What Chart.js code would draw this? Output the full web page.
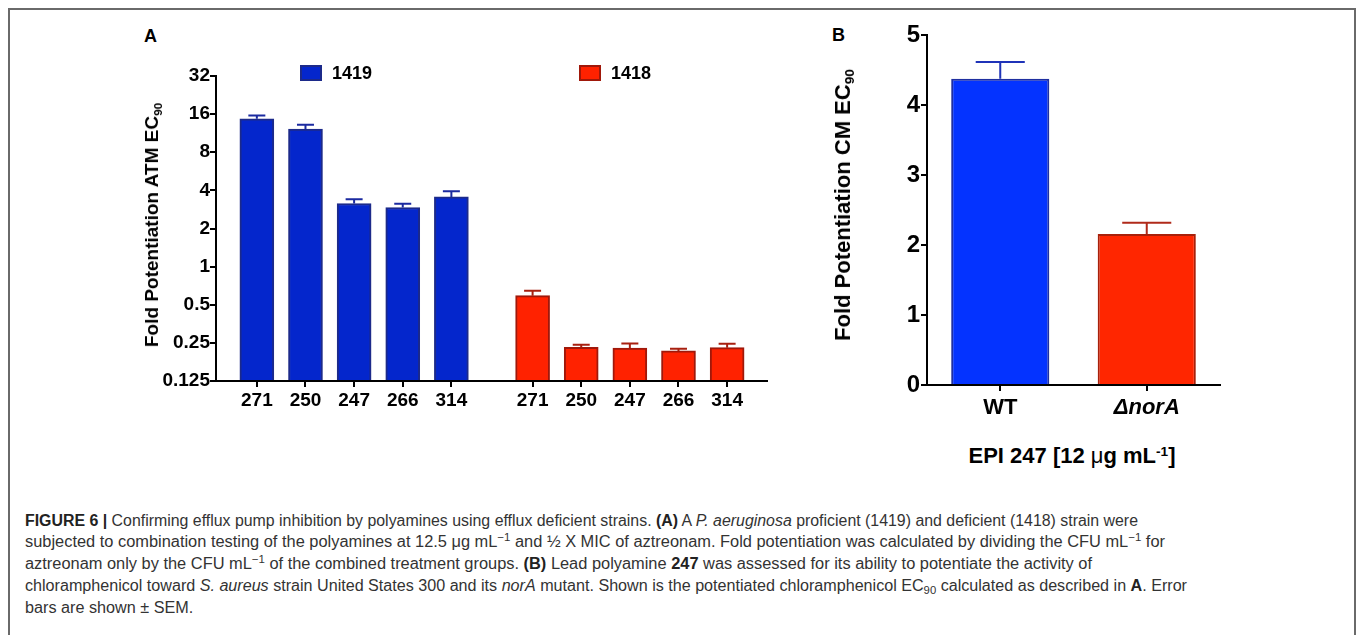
<!DOCTYPE html>
<html><head><meta charset="utf-8">
<script src="https://cdn.jsdelivr.net/npm/chart.js@4.4.0/dist/chart.umd.min.js"></script>
<style>
html,body{margin:0;padding:0;background:#fff;width:1357px;height:635px;overflow:hidden;font-family:"Liberation Sans",Arial,sans-serif;}
#frame{position:absolute;left:8px;top:8px;width:1348px;height:700px;border:2px solid #6a6a6a;border-bottom:none;box-sizing:border-box;}
.abs{position:absolute;}
.panel{position:absolute;font-weight:bold;font-size:18px;color:#000;}
.rot{position:absolute;transform:translate(-50%,-50%) rotate(-90deg);white-space:nowrap;font-weight:bold;color:#000;}
.ctr{position:absolute;transform:translate(-50%,-50%);white-space:nowrap;font-weight:bold;color:#000;}
sub.s{font-size:0.62em;vertical-align:-0.3em;line-height:0;}
sup.s{font-size:0.62em;vertical-align:0.55em;line-height:0;}
.leg{position:absolute;box-sizing:border-box;border:2px solid;}
.legt{position:absolute;font-weight:bold;font-size:18px;line-height:18px;color:#000;}
#caption{position:absolute;left:25px;top:509.6px;font-size:16px;line-height:21.8px;color:#333;}
#caption .ln{white-space:nowrap;display:block;height:21.8px;}
#caption .ln span.in{display:inline-block;transform-origin:0 50%;}
#caption b{color:#222;}
#caption sup{font-size:0.7em;vertical-align:0.5em;line-height:0;}
#caption sub{font-size:0.7em;vertical-align:-0.25em;line-height:0;}
</style>
</head>
<body>
<div id="frame"></div>

<div class="panel" style="left:144px;top:26px;">A</div>
<div class="panel" style="left:832px;top:25px;">B</div>

<div id="wrapA" class="abs" style="left:100px;top:60px;width:700px;height:360px;"><canvas id="chartA" width="700" height="360"></canvas></div>
<div id="wrapB" class="abs" style="left:850px;top:20px;width:400px;height:420px;"><canvas id="chartB" width="400" height="420"></canvas></div>

<div class="rot" style="left:152px;top:225px;font-size:19px;">Fold Potentiation ATM EC<sub class="s">90</sub></div>
<div class="rot" style="left:843px;top:205px;font-size:22px;">Fold Potentiation CM EC<sub class="s">90</sub></div>
<div class="ctr" style="left:1072px;top:456px;font-size:22px;">EPI 247 [12 <span style="font-weight:normal">μ</span>g mL<sup class="s">-1</sup>]</div>

<div id="legendA"></div>

<div id="caption">
<div class="ln"><span class="in" data-w="1113"><b>FIGURE 6 |</b> Confirming efflux pump inhibition by polyamines using efflux deficient strains. <b>(A)</b> A <i>P. aeruginosa</i> proficient (1419) and deficient (1418) strain were</span></div>
<div class="ln"><span class="in" data-w="1140">subjected to combination testing of the polyamines at 12.5 μg mL<sup>−1</sup> and ½ X MIC of aztreonam. Fold potentiation was calculated by dividing the CFU mL<sup>−1</sup> for</span></div>
<div class="ln"><span class="in" data-w="1067">aztreonam only by the CFU mL<sup>−1</sup> of the combined treatment groups. <b>(B)</b> Lead polyamine <b>247</b> was assessed for its ability to potentiate the activity of</span></div>
<div class="ln"><span class="in" data-w="1162">chloramphenicol toward <i>S. aureus</i> strain United States 300 and its <i>norA</i> mutant. Shown is the potentiated chloramphenicol EC<sub>90</sub> calculated as described in <b>A</b>. Error</span></div>
<div class="ln"><span class="in">bars are shown ± SEM.</span></div>
</div>

<script>
// ---------- DATA ----------
const categories = ['271', '250', '247', '266', '314'];
const strains = ['1419', '1418'];
const fold1419 = [14.7, 12.2, 3.15, 2.93, 3.55];
const sem1419 = [0.9, 1.0, 0.26, 0.2, 0.39];
const fold1418 = [0.59, 0.231, 0.227, 0.216, 0.229];
const sem1418 = [0.056, 0.011, 0.02, 0.009, 0.017];
const yTicksA = [0.125, 0.25, 0.5, 1, 2, 4, 8, 16, 32];
const yTickLabelsA = ['0.125', '0.25', '0.5', '1', '2', '4', '8', '16', '32'];

const groupsB = ['WT', 'ΔnorA'];
const foldB = [4.38, 2.16];
const semB = [0.24, 0.16];
const yTicksB = [0, 1, 2, 3, 4, 5];

// ---------- STYLE ----------
const FONT = '"Liberation Sans", Arial, sans-serif';
const fillA = ['#0426cc', '#ff2200'];
const edgeA = ['#1c2a8a', '#a0180a'];
const errA = ['#1b2aa0', '#a82010'];
const fillB = ['#0433ff', '#ff2600'];
const edgeB = ['#1f2fa0', '#a8200a'];
const errB = ['#1f33b8', '#b02a1a'];
const GROUP_GAP = 0.67;

const xIndex = (g, i) => g * (categories.length + GROUP_GAP) + i;
const allX = [];
const allXLabels = [];
strains.forEach((s, g) => categories.forEach((c, i) => { allX.push(xIndex(g, i)); allXLabels.push(c); }));

// error bar plugin (upper SEM only)
const errorBars = {
  id: 'errorBars',
  afterDatasetsDraw(chart) {
    const ctx = chart.ctx;
    chart.data.datasets.forEach((ds, di) => {
      const meta = chart.getDatasetMeta(di);
      const yScale = chart.scales[meta.yAxisID];
      meta.data.forEach((bar, i) => {
        const d = ds.data[i];
        const v = (typeof d === 'object') ? d.y : d;
        const e = ds.sem[i];
        const yTop = yScale.getPixelForValue(v + e);
        const col = Array.isArray(ds.errColor) ? ds.errColor[i] : ds.errColor;
        const half = bar.width * 0.25;
        ctx.save();
        ctx.strokeStyle = col;
        ctx.lineWidth = 2;
        ctx.beginPath();
        ctx.moveTo(bar.x, bar.y);
        ctx.lineTo(bar.x, yTop);
        ctx.moveTo(bar.x - half, yTop);
        ctx.lineTo(bar.x + half, yTop);
        ctx.stroke();
        ctx.restore();
      });
    });
  }
};

// ---------- CHART A ----------
const seriesA = [fold1419, fold1418];
const semA = [sem1419, sem1418];
new Chart(document.getElementById('chartA'), {
  type: 'bar',
  data: {
    datasets: strains.map((s, g) => ({
      label: s,
      data: categories.map((c, i) => ({ x: xIndex(g, i), y: seriesA[g][i] })),
      sem: semA[g],
      errColor: errA[g],
      backgroundColor: fillA[g],
      borderColor: edgeA[g],
      borderWidth: 2,
      borderSkipped: 'bottom',
      barThickness: 34,
      grouped: false,
      base: 0.125
    }))
  },
  options: {
    responsive: false,
    animation: false,
    devicePixelRatio: 1,
    layout: { padding: { top: 16, right: 33, left: 0, bottom: 0 } },
    plugins: { legend: { display: false }, tooltip: { enabled: false } },
    scales: {
      x: {
        type: 'linear',
        offset: false,
        min: -0.84, max: 10.49,
        afterBuildTicks(s) { s.ticks = allX.map(v => ({ value: v })); },
        afterFit(s) { s.height = 39; },
        grid: { display: true, drawOnChartArea: false, drawTicks: true, tickLength: 6, color: '#000', lineWidth: 2, offset: false },
        border: { display: true, color: '#000', width: 2 },
        ticks: { autoSkip: false, maxRotation: 0, padding: 2, color: '#000',
          font: { size: 19, weight: 'bold', family: FONT },
          callback: (v, i) => allXLabels[i] }
      },
      y: {
        type: 'logarithmic',
        min: 0.125, max: 32,
        afterBuildTicks(s) { s.ticks = yTicksA.map(v => ({ value: v })); },
        afterFit(s) { s.width = 116; },
        grid: { display: true, drawOnChartArea: false, drawTicks: true, tickLength: 6, color: '#000', lineWidth: 2 },
        border: { display: true, color: '#000', width: 2 },
        ticks: { autoSkip: false, padding: 0, color: '#000',
          font: { size: 19, weight: 'bold', family: FONT },
          callback: (v, i) => yTickLabelsA[i] }
      }
    }
  },
  plugins: [errorBars]
});

// legend A (HTML)
const legPos = [{ left: 300, text: 332 }, { left: 579, text: 611 }];
const legEl = document.getElementById('legendA');
strains.forEach((s, g) => {
  const sq = document.createElement('div');
  sq.className = 'leg';
  sq.style.cssText = `left:${legPos[g].left}px;top:65px;width:22px;height:16px;background:${fillA[g]};border-color:${edgeA[g]};`;
  legEl.appendChild(sq);
  const t = document.createElement('div');
  t.className = 'legt';
  t.style.cssText = `left:${legPos[g].text}px;top:64px;`;
  t.textContent = s;
  legEl.appendChild(t);
});

// ---------- CHART B ----------
new Chart(document.getElementById('chartB'), {
  type: 'bar',
  data: {
    labels: groupsB,
    datasets: [{
      label: 'EPI 247',
      data: foldB,
      sem: semB,
      errColor: errB,
      backgroundColor: fillB,
      borderColor: edgeB,
      borderWidth: 2,
      borderSkipped: 'bottom',
      barPercentage: 0.67,
      categoryPercentage: 1
    }]
  },
  options: {
    responsive: false,
    animation: false,
    devicePixelRatio: 1,
    layout: { padding: { top: 15, right: 30, left: 0, bottom: 0 } },
    plugins: { legend: { display: false }, tooltip: { enabled: false } },
    scales: {
      x: {
        afterFit(s) { s.height = 55; },
        grid: { display: true, drawOnChartArea: false, drawTicks: true, tickLength: 6, color: '#000', lineWidth: 2, offset: false },
        border: { display: true, color: '#000', width: 2 },
        ticks: { padding: 4, color: '#000',
          font: (c) => ({ size: 22, weight: 'bold', family: FONT, style: c.index === 1 ? 'italic' : 'normal' }) }
      },
      y: {
        min: 0, max: 5,
        afterBuildTicks(s) { s.ticks = yTicksB.map(v => ({ value: v })); },
        afterFit(s) { s.width = 77; },
        grid: { display: true, drawOnChartArea: false, drawTicks: true, tickLength: 6, color: '#000', lineWidth: 2 },
        border: { display: true, color: '#000', width: 2 },
        ticks: { padding: 1, color: '#000', font: { size: 24, weight: 'bold', family: FONT } }
      }
    }
  },
  plugins: [errorBars]
});

// ---------- caption fit ----------
let scales = [];
const spans = document.querySelectorAll('#caption span.in');
spans.forEach(el => {
  if (!el.dataset.w) return;
  const w = el.getBoundingClientRect().width;
  const k = parseFloat(el.dataset.w) / w;
  scales.push(k);
  el.style.transform = `scaleX(${k})`;
});
const kAvg = scales.reduce((a, b) => a + b, 0) / scales.length;
spans.forEach(el => { if (!el.dataset.w) el.style.transform = `scaleX(${kAvg})`; });
</script>
</body></html>
